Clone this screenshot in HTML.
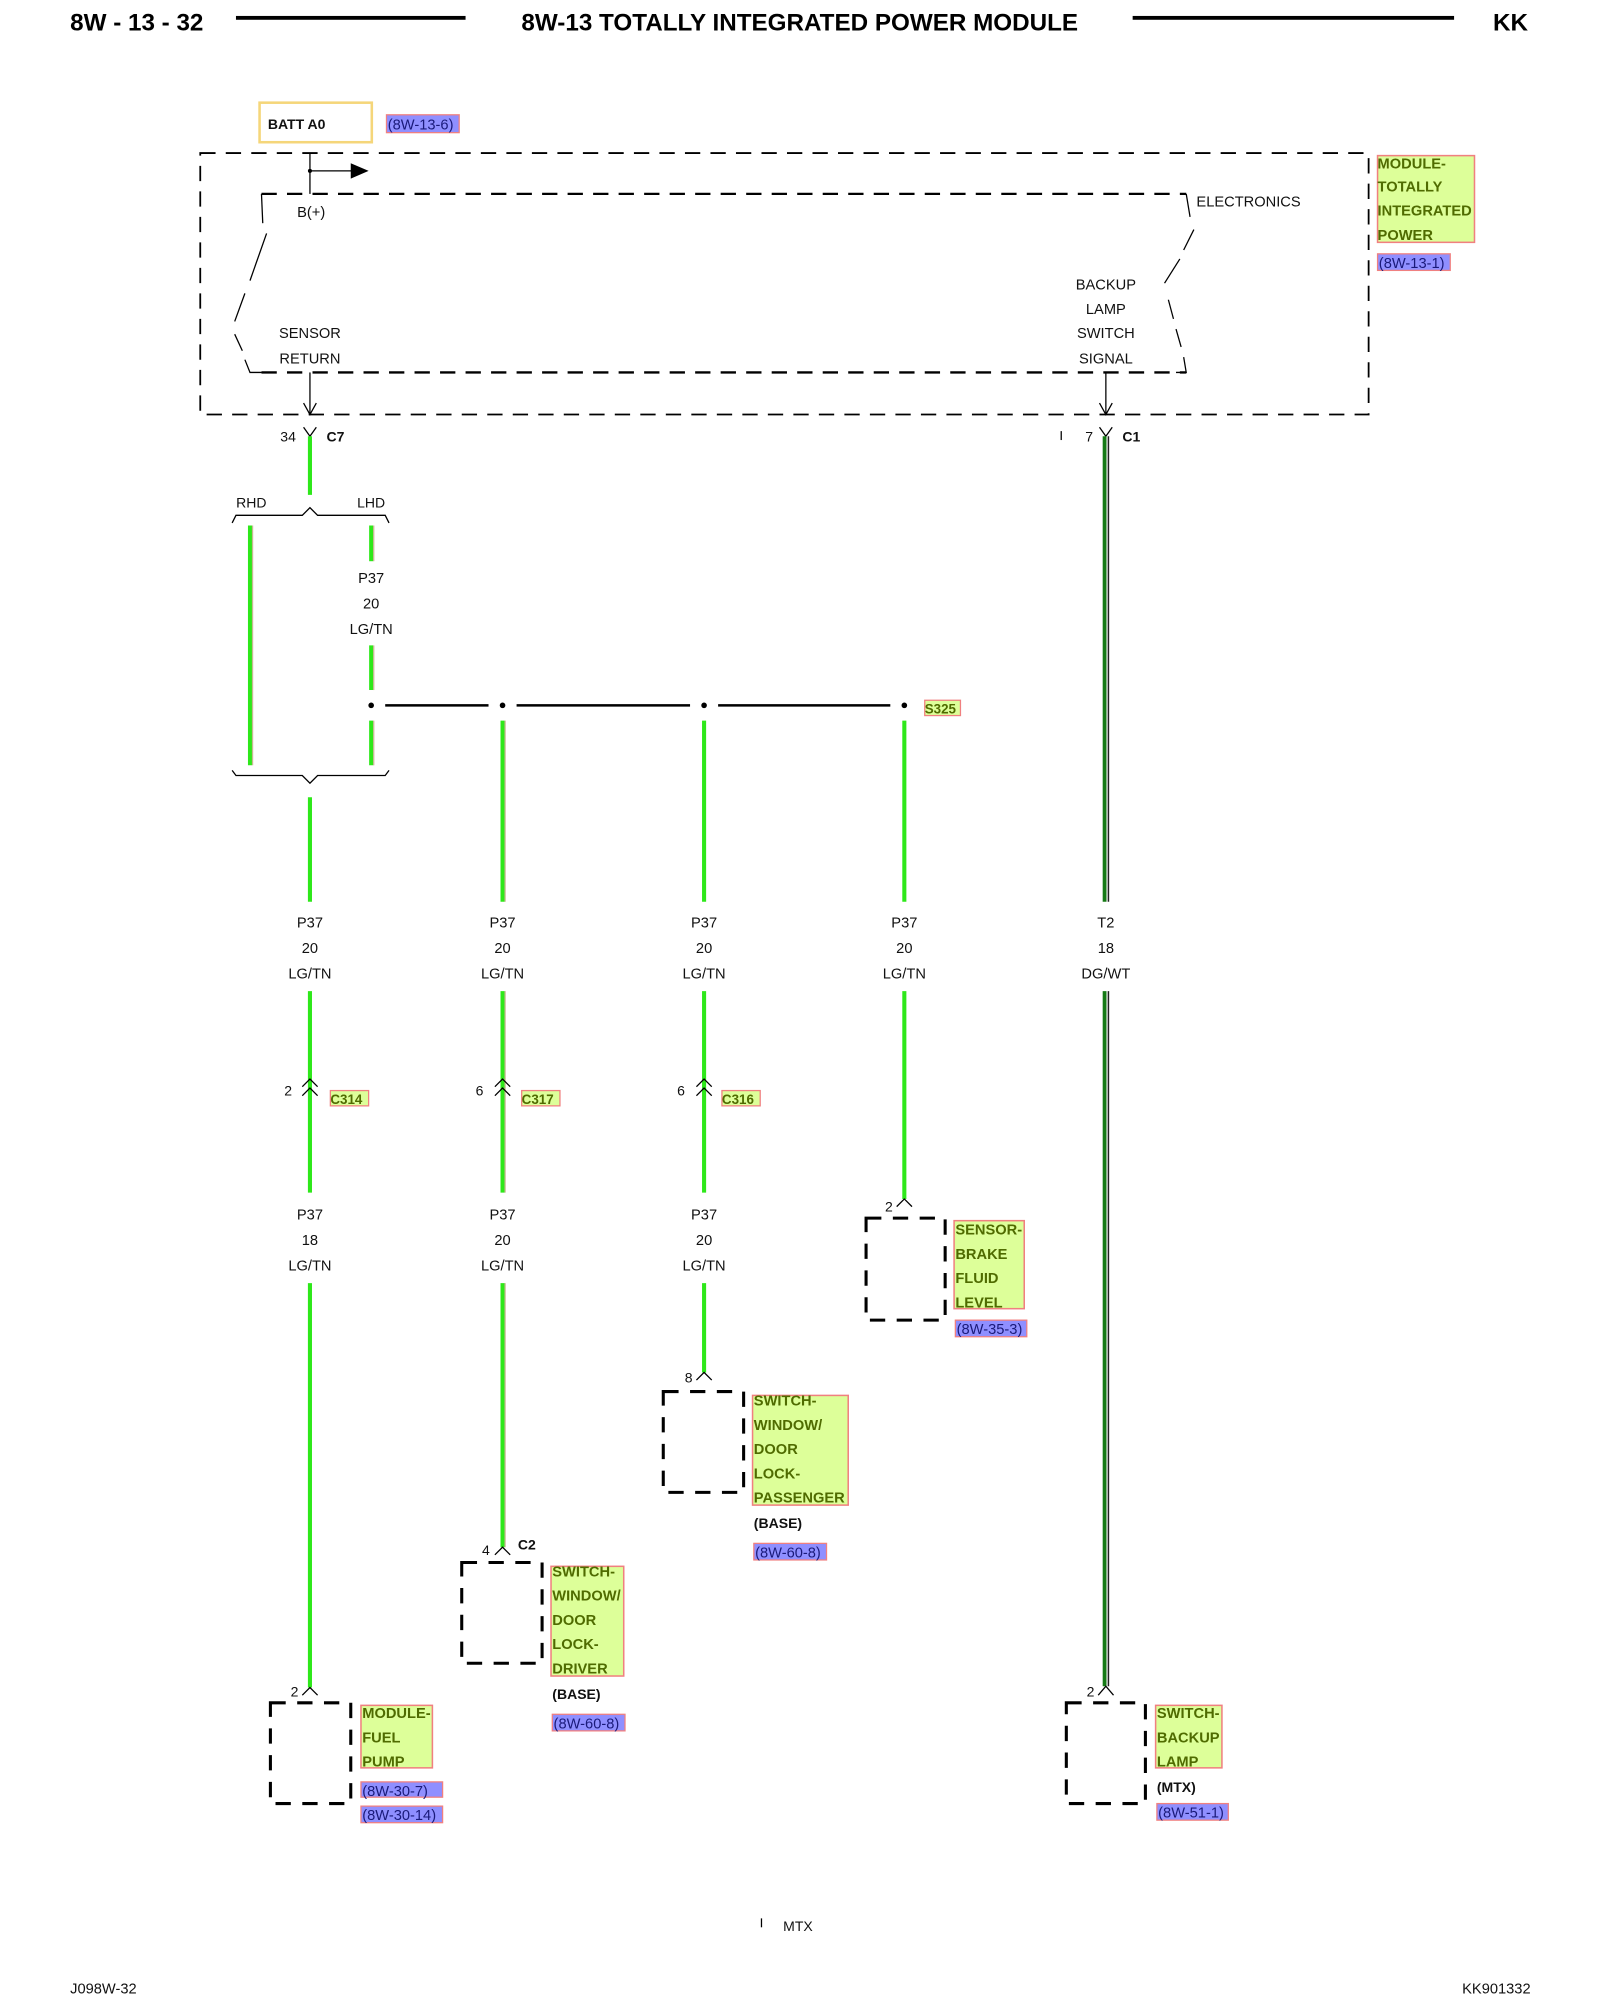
<!DOCTYPE html>
<html><head><meta charset="utf-8">
<style>
html,body{margin:0;padding:0;background:#fff;}
svg{display:block}
text{font-family:"Liberation Sans",Arial,sans-serif;}
.t{font-size:11.5px;fill:#111;}
.c{text-anchor:middle}
.b{font-weight:bold}
.lab{font-size:11.5px;font-weight:bold;fill:#4f6b00;}
.ref{font-size:11.5px;fill:#1a1a7a;}
.dash{fill:none;stroke:#000;stroke-width:1.4;stroke-dasharray:12 8}
.box{fill:none;stroke:#000;stroke-width:2.4;stroke-dasharray:12 9}
.gw{stroke:#2ee81a;stroke-width:3.2}
.gs{stroke:#c8b890;stroke-width:1}
.dw{stroke:#157a15;stroke-width:3}
.ds{stroke:#222;stroke-width:1.2}
.ln{stroke:#000;stroke-width:1;fill:none}
</style></head>
<body>
<svg width="1600" height="2000" viewBox="0 0 1254.4 1568" preserveAspectRatio="none" xmlns="http://www.w3.org/2000/svg">
<!-- header -->
<text x="55" y="24" class="b" style="font-size:19px">8W - 13 - 32</text>
<rect x="185" y="12.5" width="180" height="3" fill="#000"/>
<text x="627" y="24" class="b c" style="font-size:19px">8W-13 TOTALLY INTEGRATED POWER MODULE</text>
<rect x="888" y="12.5" width="252" height="3" fill="#000"/>
<text x="1198" y="24" class="b" style="font-size:19px;text-anchor:end">KK</text>

<!-- BATT A0 -->
<rect x="203.5" y="80.5" width="88" height="31" fill="#fff" stroke="#f5d67a" stroke-width="2"/>
<text x="210" y="101" class="t b" style="font-size:11px">BATT A0</text>
<rect x="303" y="90" width="57" height="14" fill="#8f8fff" stroke="#f08080" stroke-width="1"/>
<text x="304" y="101.5" class="ref">(8W-13-6)</text>

<!-- outer dashed box -->
<rect x="157" y="120" width="916" height="205" class="dash"/>
<!-- B+ -->
<line x1="243" y1="120" x2="243" y2="152" class="ln"/>
<circle cx="243" cy="134" r="1.6" fill="#000"/>
<line x1="243" y1="134" x2="276" y2="134" class="ln"/>
<polygon points="275,128 289,134 275,140" fill="#000"/>
<!-- inner box -->
<line x1="205" y1="152" x2="930" y2="152" class="dash" style="stroke-width:1.8"/>
<line x1="205" y1="292" x2="930" y2="292" class="dash" style="stroke-width:1.8"/>
<polyline points="205,152 206,175" class="ln"/>
<polyline points="209,183 196,220" class="ln"/>
<polyline points="192,230 184,252" class="ln"/>
<polyline points="184,262 190,275" class="ln"/>
<polyline points="192,282 196,292 205,292" class="ln"/>
<polyline points="930,152 933,170" class="ln"/>
<polyline points="936,180 928,196" class="ln"/>
<polyline points="925,203 913,222" class="ln"/>
<polyline points="916,235 920,250" class="ln"/>
<polyline points="922,258 926,272" class="ln"/>
<polyline points="928,280 930,292 922,292" class="ln"/>
<text x="244" y="170" class="t c">B(+)</text>
<text x="938" y="162" class="t">ELECTRONICS</text>
<text x="243" y="265" class="t c">SENSOR</text>
<text x="243" y="285" class="t c">RETURN</text>
<text x="867" y="227" class="t c">BACKUP</text>
<text x="867" y="246" class="t c">LAMP</text>
<text x="867" y="265" class="t c">SWITCH</text>
<text x="867" y="285" class="t c">SIGNAL</text>
<line x1="243" y1="292" x2="243" y2="325" class="ln"/>
<polyline points="238,316 243,325 248,316" class="ln"/>
<line x1="867" y1="292" x2="867" y2="325" class="ln"/>
<polyline points="862,316 867,325 872,316" class="ln"/>
<!-- module label -->
<rect x="1080" y="122" width="76" height="68" fill="#ddff99" stroke="#f08080" stroke-width="1.2"/>
<text x="1080" y="132" class="lab">MODULE-</text>
<text x="1080" y="150" class="lab">TOTALLY</text>
<text x="1080" y="169" class="lab">INTEGRATED</text>
<text x="1080" y="188" class="lab">POWER</text>
<rect x="1080" y="199" width="57" height="13" fill="#8f8fff" stroke="#f08080" stroke-width="1"/>
<text x="1081" y="210" class="ref">(8W-13-1)</text>

<!-- C7 / C1 connectors -->
<polyline points="238,335 243,342 248,335" class="ln"/>
<text x="232" y="346" class="t" style="text-anchor:end;font-size:11px">34</text>
<text x="256" y="346" class="t b" style="font-size:11px">C7</text>
<polyline points="862,335 867,342 872,335" class="ln"/>
<line x1="832" y1="338" x2="832" y2="345" class="ln"/>
<text x="857" y="346" class="t" style="text-anchor:end;font-size:11px">7</text>
<text x="880" y="346" class="t b" style="font-size:11px">C1</text>

<!-- green wires -->
<g>
<line x1="243" y1="342" x2="243" y2="388" class="gw"/>
<line x1="196" y1="412" x2="196" y2="600" class="gw"/><line x1="198" y1="412" x2="198" y2="600" class="gs"/>
<line x1="291" y1="412" x2="291" y2="440" class="gw"/><line x1="293" y1="412" x2="293" y2="440" class="gs"/>
<line x1="291" y1="506" x2="291" y2="541" class="gw"/><line x1="293" y1="506" x2="293" y2="541" class="gs"/>
<line x1="291" y1="565" x2="291" y2="600" class="gw"/><line x1="293" y1="565" x2="293" y2="600" class="gs"/>
<line x1="243" y1="625" x2="243" y2="707" class="gw"/>
<line x1="394" y1="565" x2="394" y2="707" class="gw"/><line x1="396" y1="565" x2="396" y2="707" class="gs"/>
<line x1="552" y1="565" x2="552" y2="707" class="gw"/>
<line x1="709" y1="565" x2="709" y2="707" class="gw"/>
<line x1="243" y1="777" x2="243" y2="935" class="gw"/>
<line x1="394" y1="777" x2="394" y2="935" class="gw"/><line x1="396" y1="777" x2="396" y2="935" class="gs"/>
<line x1="552" y1="777" x2="552" y2="935" class="gw"/>
<line x1="709" y1="777" x2="709" y2="940" class="gw"/>
<line x1="243" y1="1006" x2="243" y2="1323" class="gw"/>
<line x1="394" y1="1006" x2="394" y2="1213" class="gw"/><line x1="396" y1="1006" x2="396" y2="1213" class="gs"/>
<line x1="552" y1="1006" x2="552" y2="1076" class="gw"/>
</g>
<!-- dark green -->
<line x1="866" y1="342" x2="866" y2="707" class="dw"/><line x1="869" y1="342" x2="869" y2="707" class="ds"/>
<line x1="866" y1="777" x2="866" y2="1322" class="dw"/><line x1="869" y1="777" x2="869" y2="1322" class="ds"/>

<!-- RHD/LHD -->
<text x="197" y="398" class="t c" style="font-size:11px">RHD</text>
<text x="291" y="398" class="t c" style="font-size:11px">LHD</text>
<polyline points="182,410 185,404 237,404 243,398 249,404 302,404 305,410" class="ln"/>
<polyline points="182,604 185,608 237,608 243,614 249,608 302,608 305,604" class="ln"/>
<text x="291" y="457" class="t c">P37</text>
<text x="291" y="477" class="t c">20</text>
<text x="291" y="497" class="t c">LG/TN</text>

<!-- splice -->
<line x1="302" y1="553" x2="383" y2="553" stroke="#000" stroke-width="2"/>
<line x1="405" y1="553" x2="541" y2="553" stroke="#000" stroke-width="2"/>
<line x1="563" y1="553" x2="698" y2="553" stroke="#000" stroke-width="2"/>
<circle cx="291" cy="553" r="2.2" fill="#000"/>
<circle cx="394" cy="553" r="2.2" fill="#000"/>
<circle cx="552" cy="553" r="2.2" fill="#000"/>
<circle cx="709" cy="553" r="2.2" fill="#000"/>
<rect x="725" y="549" width="28" height="12" fill="#ddff99" stroke="#f08080" stroke-width="1"/>
<text x="725" y="559.5" class="lab" style="font-size:10.5px">S325</text>

<!-- mid labels -->
<g>
<text x="243" y="727" class="t c">P37</text><text x="243" y="747" class="t c">20</text><text x="243" y="767" class="t c">LG/TN</text>
<text x="394" y="727" class="t c">P37</text><text x="394" y="747" class="t c">20</text><text x="394" y="767" class="t c">LG/TN</text>
<text x="552" y="727" class="t c">P37</text><text x="552" y="747" class="t c">20</text><text x="552" y="767" class="t c">LG/TN</text>
<text x="709" y="727" class="t c">P37</text><text x="709" y="747" class="t c">20</text><text x="709" y="767" class="t c">LG/TN</text>
<text x="867" y="727" class="t c">T2</text><text x="867" y="747" class="t c">18</text><text x="867" y="767" class="t c">DG/WT</text>
<text x="243" y="956" class="t c">P37</text><text x="243" y="976" class="t c">18</text><text x="243" y="996" class="t c">LG/TN</text>
<text x="394" y="956" class="t c">P37</text><text x="394" y="976" class="t c">20</text><text x="394" y="996" class="t c">LG/TN</text>
<text x="552" y="956" class="t c">P37</text><text x="552" y="976" class="t c">20</text><text x="552" y="996" class="t c">LG/TN</text>
</g>

<!-- inline connectors -->
<g>
<polyline points="237,852 243,846 249,852" class="ln"/><polyline points="237,859 243,853 249,859" class="ln"/>
<text x="229" y="859" class="t" style="text-anchor:end;font-size:11px">2</text>
<rect x="259" y="855" width="30" height="12" fill="#ddff99" stroke="#f08080" stroke-width="1"/>
<text x="259" y="865.5" class="lab" style="font-size:10.5px">C314</text>
<polyline points="388,852 394,846 400,852" class="ln"/><polyline points="388,859 394,853 400,859" class="ln"/>
<text x="379" y="859" class="t" style="text-anchor:end;font-size:11px">6</text>
<rect x="409" y="855" width="30" height="12" fill="#ddff99" stroke="#f08080" stroke-width="1"/>
<text x="409" y="865.5" class="lab" style="font-size:10.5px">C317</text>
<polyline points="546,852 552,846 558,852" class="ln"/><polyline points="546,859 552,853 558,859" class="ln"/>
<text x="537" y="859" class="t" style="text-anchor:end;font-size:11px">6</text>
<rect x="566" y="855" width="30" height="12" fill="#ddff99" stroke="#f08080" stroke-width="1"/>
<text x="566" y="865.5" class="lab" style="font-size:10.5px">C316</text>
</g>

<!-- Sensor brake fluid level -->
<polyline points="703,946 709,940 715,946" class="ln"/>
<text x="700" y="950" class="t" style="text-anchor:end;font-size:11px">2</text>
<rect x="679" y="955" width="62" height="80" class="box"/>
<rect x="748" y="957" width="55" height="69" fill="#ddff99" stroke="#f08080" stroke-width="1.2"/>
<text x="749" y="968" class="lab">SENSOR-</text>
<text x="749" y="987" class="lab">BRAKE</text>
<text x="749" y="1006" class="lab">FLUID</text>
<text x="749" y="1025" class="lab">LEVEL</text>
<rect x="749" y="1035" width="56" height="13" fill="#8f8fff" stroke="#f08080" stroke-width="1"/>
<text x="750" y="1046" class="ref">(8W-35-3)</text>

<!-- switch passenger -->
<polyline points="546,1082 552,1076 558,1082" class="ln"/>
<text x="543" y="1084" class="t" style="text-anchor:end;font-size:11px">8</text>
<rect x="520" y="1091" width="63" height="79" class="box"/>
<rect x="590" y="1094" width="75" height="86" fill="#ddff99" stroke="#f08080" stroke-width="1.2"/>
<text x="591" y="1102" class="lab">SWITCH-</text>
<text x="591" y="1121" class="lab">WINDOW/</text>
<text x="591" y="1140" class="lab">DOOR</text>
<text x="591" y="1159" class="lab">LOCK-</text>
<text x="591" y="1178" class="lab">PASSENGER</text>
<text x="591" y="1198" class="t b" style="font-size:11px">(BASE)</text>
<rect x="591" y="1210" width="57" height="13" fill="#8f8fff" stroke="#f08080" stroke-width="1"/>
<text x="592" y="1221" class="ref">(8W-60-8)</text>

<!-- switch driver -->
<polyline points="388,1219 394,1213 400,1219" class="ln"/>
<text x="384" y="1219" class="t" style="text-anchor:end;font-size:11px">4</text>
<text x="406" y="1215" class="t b" style="font-size:11px">C2</text>
<rect x="362" y="1225" width="63" height="79" class="box"/>
<rect x="432" y="1228" width="57" height="86" fill="#ddff99" stroke="#f08080" stroke-width="1.2"/>
<text x="433" y="1236" class="lab">SWITCH-</text>
<text x="433" y="1255" class="lab">WINDOW/</text>
<text x="433" y="1274" class="lab">DOOR</text>
<text x="433" y="1293" class="lab">LOCK-</text>
<text x="433" y="1312" class="lab">DRIVER</text>
<text x="433" y="1332" class="t b" style="font-size:11px">(BASE)</text>
<rect x="433" y="1344" width="57" height="13" fill="#8f8fff" stroke="#f08080" stroke-width="1"/>
<text x="434" y="1355" class="ref">(8W-60-8)</text>

<!-- fuel pump -->
<polyline points="237,1329 243,1323 249,1329" class="ln"/>
<text x="234" y="1330" class="t" style="text-anchor:end;font-size:11px">2</text>
<rect x="212" y="1335" width="63" height="79" class="box"/>
<rect x="283" y="1337" width="56" height="49" fill="#ddff99" stroke="#f08080" stroke-width="1.2"/>
<text x="284" y="1347" class="lab">MODULE-</text>
<text x="284" y="1366" class="lab">FUEL</text>
<text x="284" y="1385" class="lab">PUMP</text>
<rect x="283" y="1397" width="64" height="12" fill="#8f8fff" stroke="#f08080" stroke-width="1"/>
<text x="284" y="1408" class="ref">(8W-30-7)</text>
<rect x="283" y="1416" width="64" height="13" fill="#8f8fff" stroke="#f08080" stroke-width="1"/>
<text x="284" y="1427" class="ref">(8W-30-14)</text>

<!-- backup lamp -->
<polyline points="861,1329 867,1322 873,1329" class="ln"/>
<text x="858" y="1330" class="t" style="text-anchor:end;font-size:11px">2</text>
<rect x="836" y="1335" width="62" height="79" class="box"/>
<rect x="906" y="1337" width="52" height="49" fill="#ddff99" stroke="#f08080" stroke-width="1.2"/>
<text x="907" y="1347" class="lab">SWITCH-</text>
<text x="907" y="1366" class="lab">BACKUP</text>
<text x="907" y="1385" class="lab">LAMP</text>
<text x="907" y="1405" class="t b" style="font-size:11px">(MTX)</text>
<rect x="907" y="1414" width="56" height="13" fill="#8f8fff" stroke="#f08080" stroke-width="1"/>
<text x="908" y="1425" class="ref">(8W-51-1)</text>

<!-- footer -->
<line x1="597" y1="1504" x2="597" y2="1511" class="ln"/>
<text x="614" y="1514" class="t" style="font-size:11px">MTX</text>
<text x="55" y="1563" class="t" style="font-size:11.5px">J098W-32</text>
<text x="1200" y="1563" class="t" style="font-size:11.5px;text-anchor:end">KK901332</text>
</svg>
</body></html>
